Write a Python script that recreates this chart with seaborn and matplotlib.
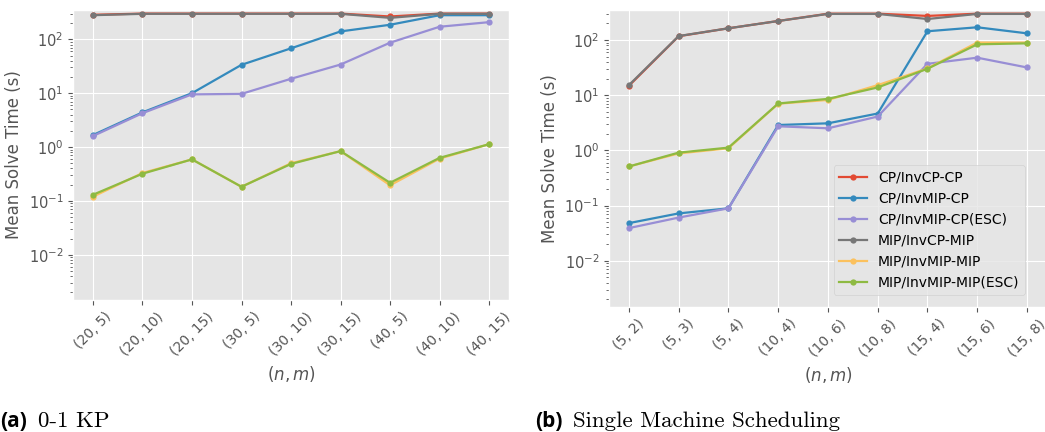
import numpy as np
import pandas as pd
import matplotlib
matplotlib.use("Agg")
import matplotlib.pyplot as plt
import seaborn as sns

methods = ["CP/InvCP-CP", "CP/InvMIP-CP", "CP/InvMIP-CP(ESC)",
           "MIP/InvCP-MIP", "MIP/InvMIP-MIP", "MIP/InvMIP-MIP(ESC)"]
colors = ["#E24A33", "#348ABD", "#988ED5", "#777777", "#FBC15E", "#8EBA42"]

# (a) 0-1 KP
kp_labels = ["(20, 5)", "(20, 10)", "(20, 15)", "(30, 5)", "(30, 10)",
             "(30, 15)", "(40, 5)", "(40, 10)", "(40, 15)"]
kp_cp_invcp = [285, 300, 300, 300, 300, 300, 265, 300, 300]
kp_cp_invmip = [1.67, 4.4, 10.0, 33.6, 68, 140, 186, 280, 280]
kp_cp_invmip_esc = [1.6, 4.25, 9.5, 9.7, 18.5, 34, 86.5, 171, 208]
kp_mip_invcp = [280, 297, 297, 297, 297, 297, 250, 297, 297]
kp_mip_invmip = [0.12, 0.33, 0.59, 0.183, 0.50, 0.84, 0.195, 0.61, 1.13]
kp_mip_invmip_esc = [0.13, 0.32, 0.59, 0.183, 0.486, 0.84, 0.217, 0.63, 1.13]

# (b) Single Machine Scheduling
sms_labels = ["(5, 2)", "(5, 3)", "(5, 4)", "(10, 4)", "(10, 6)",
              "(10, 8)", "(15, 4)", "(15, 6)", "(15, 8)"]
sms_cp_invcp = [14.8, 117, 163, 221, 300, 300, 273, 300, 300]
sms_cp_invmip = [0.048, 0.072, 0.089, 2.88, 3.09, 4.65, 144, 170, 132]
sms_cp_invmip_esc = [0.039, 0.0605, 0.089, 2.73, 2.51, 4.1, 37, 47.8, 31.8]
sms_mip_invcp = [15.2, 118, 163, 221, 297, 297, 240, 297, 297]
sms_mip_invmip = [0.51, 0.88, 1.09, 7.0, 8.2, 15.2, 30.5, 90, 90]
sms_mip_invmip_esc = [0.51, 0.91, 1.12, 7.07, 8.57, 13.8, 30.1, 83.5, 87]


def to_long(labels, series):
    rows = []
    for name, vals in zip(methods, series):
        for i, v in enumerate(vals):
            rows.append({"pos": i, "cfg": labels[i], "method": name, "time": v})
    return pd.DataFrame(rows)


kp = to_long(kp_labels, [kp_cp_invcp, kp_cp_invmip, kp_cp_invmip_esc,
                         kp_mip_invcp, kp_mip_invmip, kp_mip_invmip_esc])
sms = to_long(sms_labels, [sms_cp_invcp, sms_cp_invmip, sms_cp_invmip_esc,
                           sms_mip_invcp, sms_mip_invmip, sms_mip_invmip_esc])

plt.style.use("ggplot")
fig = plt.figure(figsize=(10.45, 4.32), dpi=100)
ax1 = fig.add_axes([0.0700, 0.3056, 0.4170, 0.6713])
ax2 = fig.add_axes([0.5828, 0.2894, 0.4190, 0.6875])

for ax, df, labels, show_leg in [(ax1, kp, kp_labels, False),
                                 (ax2, sms, sms_labels, True)]:
    sns.lineplot(data=df, x="pos", y="time", hue="method", hue_order=methods,
                 palette=colors, marker="o", markersize=4.5,
                 markeredgewidth=0, linewidth=1.6, ax=ax, legend=show_leg)
    ax.set_yscale("log")
    ax.set_ylim(1.45e-3, 350)
    ax.set_xticks(range(len(labels)))
    ax.set_xticklabels(labels, rotation=45, fontsize=10)
    ax.tick_params(axis="y", labelsize=10.5)
    ax.set_xlabel("$(n, m)$", fontsize=12)
    ax.set_ylabel("Mean Solve Time (s)", fontsize=12)

leg = ax2.legend(loc="lower right", fontsize=10, facecolor="#E5E5E5",
                 framealpha=0.8, edgecolor="#CCCCCC", borderaxespad=0,
                 bbox_to_anchor=(1025 / 1045, 137 / 432),
                 bbox_transform=fig.transFigure)

fig.text(0.0, 0.012, "(a)", fontsize=15, fontweight="bold", family="Open Sans")
fig.text(0.036, 0.012, "0-1 KP", fontsize=16.5, family="cmr10")
fig.text(0.512, 0.012, "(b)", fontsize=15, fontweight="bold", family="Open Sans")
fig.text(0.548, 0.012, "Single Machine Scheduling", fontsize=16.5, family="cmr10")

fig.savefig("out.png", dpi=100)
